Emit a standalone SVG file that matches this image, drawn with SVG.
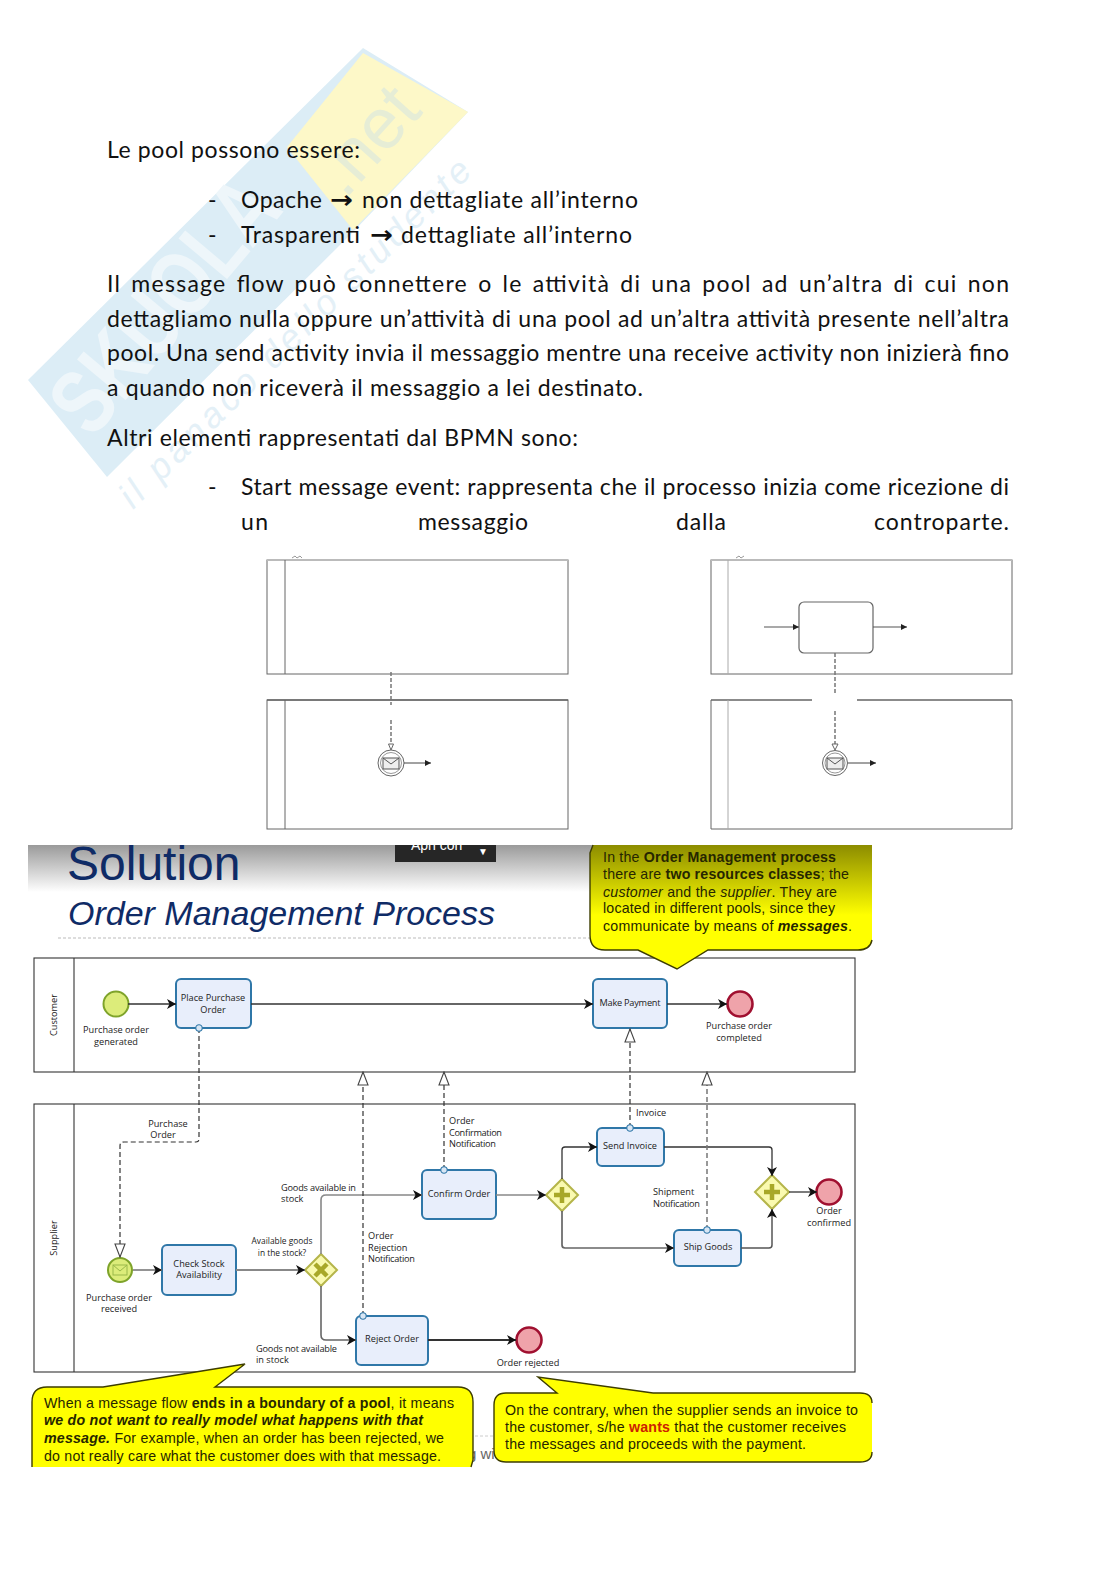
<svg xmlns="http://www.w3.org/2000/svg" width="1116" height="1579" viewBox="0 0 1116 1579">
<style>
text{font-family:"Liberation Sans",Arial,sans-serif;fill:#222}
.b{font-family:Lato,"Liberation Sans",sans-serif;font-size:23px;fill:#111}
.ar{font-family:"DejaVu Sans",sans-serif;font-size:24px;font-weight:bold;fill:#111}
.s{font-family:"Open Sans","DejaVu Sans",sans-serif;font-size:9.2px;fill:#222}
.m{text-anchor:middle}
.c{font-size:14.2px;fill:#262600}
.pool{fill:#fff;stroke:#333;stroke-width:1.1}
.mini{fill:none;stroke:#666;stroke-width:1}
.task{fill:#e8eefb;stroke:#2f77a8;stroke-width:2}
.st{fill:#dcec7a;stroke:#7ea32a;stroke-width:2}
.en{fill:#efa3aa;stroke:#a01030;stroke-width:2.6}
.gw{fill:#fafab0;stroke:#b5b54a;stroke-width:2}
.sym{fill:none;stroke:#a8a828;stroke-width:4.5}
.sf{fill:none;stroke:#333;stroke-width:1.3;marker-end:url(#a)}
.mf{fill:none;stroke:#333;stroke-width:1.2;stroke-dasharray:5 3}
.mm{fill:none;stroke:#777;stroke-width:1.5;stroke-dasharray:4 2}
.to{marker-end:url(#h)}
.from{marker-start:url(#o)}
.bub{stroke:none}
.edge{fill:none;stroke:#3d3d00;stroke-width:1.4}
</style>
<defs>
<marker id="a" markerUnits="userSpaceOnUse" markerWidth="10" markerHeight="10" refX="9" refY="5" orient="auto"><path d="M0,0 L9,5 L0,10 L2.5,5 Z" fill="#111"/></marker>
<marker id="am" markerUnits="userSpaceOnUse" markerWidth="7" markerHeight="6" refX="6" refY="3" orient="auto"><path d="M0,0 L6,3 L0,6 Z" fill="#222"/></marker>
<marker id="h" markerUnits="userSpaceOnUse" markerWidth="15" markerHeight="12" refX="14" refY="6" orient="auto"><path d="M1,1 L14,6 L1,11 Z" fill="#fff" stroke="#444" stroke-width="1.1" stroke-dasharray="none"/></marker>
<marker id="o" markerUnits="userSpaceOnUse" markerWidth="9" markerHeight="9" refX="4.5" refY="4.5" orient="auto"><circle cx="4.5" cy="4.5" r="3.2" fill="#d8e6f4" stroke="#2f77a8" stroke-width="1.1"/></marker>
<linearGradient id="hd" x1="0" y1="0" x2="0" y2="1"><stop offset="0" stop-color="#9a9a9a"/><stop offset="1" stop-color="#fff"/></linearGradient>
<linearGradient id="yg" gradientUnits="userSpaceOnUse" x1="0" y1="845" x2="0" y2="915"><stop offset="0" stop-color="#8c8c00"/><stop offset="1" stop-color="#ffff00"/></linearGradient>
<clipPath id="hc"><rect x="28" y="845" width="840" height="60"/></clipPath>
</defs>

<g id="watermark">
<polygon points="28,380 363,48 468,112 353,232 107,477" fill="#dcedf6"/>
<polygon points="287,147 363,53 468,112 353,230" fill="#fdf8c8"/>
<text transform="translate(92,440) rotate(-50)" font-size="92" font-weight="bold" textLength="300" lengthAdjust="spacingAndGlyphs" style="fill:#eef6fa">SKUOLA</text>
<text transform="translate(345,200) rotate(-48)" font-size="72" textLength="118" lengthAdjust="spacingAndGlyphs" style="fill:#e6edd6">.net</text>
<text transform="translate(133,510) rotate(-44.7)" font-size="36" font-style="italic" textLength="479" style="fill:#e4f0f7">il panaco dello studente</text>
</g>

<g id="body-text">
<text class="b" x="107" y="158" textLength="253">Le pool possono essere:</text>
<text class="b" x="208" y="208">-</text>
<text class="b" x="241" y="208" textLength="81">Opache</text>
<text class="ar" x="330" y="208" textLength="23" lengthAdjust="spacingAndGlyphs">→</text>
<text class="b" x="362" y="208" textLength="276">non dettagliate all’interno</text>
<text class="b" x="208" y="243">-</text>
<text class="b" x="241" y="243" textLength="119">Trasparenti</text>
<text class="ar" x="370" y="243" textLength="23" lengthAdjust="spacingAndGlyphs">→</text>
<text class="b" x="401" y="243" textLength="231">dettagliate all’interno</text>
<text class="b" x="107" y="292" textLength="902" style="word-spacing:3px">Il message flow può connettere o le attività di una pool ad un’altra di cui non</text>
<text class="b" x="107" y="327" textLength="902">dettagliamo nulla oppure un’attività di una pool ad un’altra attività presente nell’altra</text>
<text class="b" x="107" y="361" textLength="902">pool. Una send activity invia il messaggio mentre una receive activity non inizierà fino</text>
<text class="b" x="107" y="396" textLength="536">a quando non riceverà il messaggio a lei destinato.</text>
<text class="b" x="107" y="446" textLength="471">Altri elementi rappresentati dal BPMN sono:</text>
<text class="b" x="208" y="495">-</text>
<text class="b" x="241" y="495" textLength="768">Start message event: rappresenta che il processo inizia come ricezione di</text>
<text class="b" x="241" y="530" textLength="27">un</text>
<text class="b" x="418" y="530" textLength="110">messaggio</text>
<text class="b" x="676" y="530" textLength="50">dalla</text>
<text class="b" x="874" y="530" textLength="135">controparte.</text>
</g>

<g id="mini-left">
<rect class="mini" x="267" y="560" width="301" height="114"/>
<line x1="267" y1="560" x2="568" y2="560" stroke="#bbb" stroke-width="2"/>
<path d="M292,558 l3,-2 l2,2 l3,-2 l2,2" fill="none" stroke="#999"/>
<line class="mini" x1="285" y1="560" x2="285" y2="674"/>
<rect class="mini" x="267" y="700" width="301" height="129"/>
<line x1="267" y1="700" x2="568" y2="700" stroke="#666" stroke-width="1.6"/>
<line class="mini" x1="285" y1="700" x2="285" y2="829"/>
<path class="mm" d="M391,672 V705 M391,720 V744"/>
<path d="M388.5,744 h5 l-2.500,6 z" fill="#fff" stroke="#666"/>
<circle cx="391" cy="763" r="13" fill="#fff" stroke="#666"/>
<circle cx="391" cy="763" r="10.500" fill="none" stroke="#999"/>
<rect x="383" y="758" width="16" height="11" fill="#eee" stroke="#555"/>
<path d="M383,758 L391,764 L399,758" fill="none" stroke="#555"/>
<line x1="404" y1="763" x2="431" y2="763" stroke="#444" marker-end="url(#am)"/>
</g>

<g id="mini-right">
<rect class="mini" x="711" y="560" width="301" height="114"/>
<line x1="711" y1="560" x2="1012" y2="560" stroke="#bbb" stroke-width="2"/>
<path d="M736,558 l3,-2 l2,2 l3,-2" fill="none" stroke="#999"/>
<line x1="728" y1="560" x2="728" y2="674" stroke="#aaa"/>
<path d="M711,700 V829 H1012 V700" class="mini"/>
<path d="M711,700 H812 M857,700 H1012" fill="none" stroke="#666" stroke-width="1.6"/>
<line x1="728" y1="700" x2="728" y2="829" stroke="#aaa"/>
<rect x="799" y="602" width="74" height="51" rx="5" fill="#fff" stroke="#666" stroke-width="1.2"/>
<line x1="764" y1="627" x2="799" y2="627" stroke="#555" stroke-width="1.2" marker-end="url(#am)"/>
<line x1="873" y1="627" x2="907" y2="627" stroke="#555" stroke-width="1.2" marker-end="url(#am)"/>
<path class="mm" d="M835,653 V695 M835,711 V744"/>
<path d="M832,744 h6 l-3,6 z" fill="#fff" stroke="#666"/>
<circle cx="835" cy="763" r="12.500" fill="#fff" stroke="#666"/>
<circle cx="835" cy="763" r="10" fill="none" stroke="#999"/>
<rect x="827" y="758" width="16" height="11" fill="#eee" stroke="#555"/>
<path d="M827,758 L835,764 L843,758" fill="none" stroke="#555"/>
<line x1="848" y1="763" x2="876" y2="763" stroke="#444" marker-end="url(#am)"/>
</g>

<g id="header">
<rect x="28" y="845" width="565" height="47" fill="url(#hd)"/>
<g clip-path="url(#hc)">
<text x="67" y="880" font-size="48" style="fill:#0f2b66">Solution</text>
<rect x="395" y="845" width="101" height="17" fill="#262626"/>
<text x="411" y="850" font-size="14" style="fill:#fff">Apri con</text>
<text x="478" y="855" font-size="10" style="fill:#fff">▼</text>
</g>
<text x="68" y="925" font-size="34" font-style="italic" textLength="427" style="fill:#0f2b66">Order Management Process</text>
<line x1="58" y1="938" x2="592" y2="938" stroke="#bbb" stroke-dasharray="3 2"/>
</g>

<g id="pool-customer">
<rect class="pool" x="34" y="958" width="821" height="114"/>
<line class="pool" x1="74" y1="958" x2="74" y2="1072"/>
<text transform="translate(57,1015) rotate(-90)" class="s m">Customer</text>
</g>
<g id="pool-supplier">
<rect class="pool" x="34" y="1104" width="821" height="268"/>
<line class="pool" x1="74" y1="1104" x2="74" y2="1372"/>
<text transform="translate(57,1238) rotate(-90)" class="s m">Supplier</text>
</g>

<g id="start-customer"><circle class="st" cx="116" cy="1004" r="12.5"/><text class="s m" x="116" y="1033">Purchase order</text><text class="s m" x="116" y="1045">generated</text></g>
<g id="task-place"><rect class="task" x="176" y="979" width="75" height="49" rx="5"/><text class="s m" x="213" y="1001">Place Purchase</text><text class="s m" x="213" y="1013">Order</text></g>
<g id="task-payment"><rect class="task" x="593" y="979" width="74" height="49" rx="5"/><text class="s m" x="630" y="1006" textLength="61">Make Payment</text></g>
<g id="end-customer"><circle class="en" cx="740" cy="1004" r="12.5"/><text class="s m" x="739" y="1029">Purchase order</text><text class="s m" x="739" y="1041">completed</text></g>

<g id="start-supplier"><circle class="st" cx="120" cy="1270" r="12"/><rect x="113" y="1265" width="14" height="10" fill="none" stroke="#9ab84a"/><path d="M113,1265 L120,1271 L127,1265" fill="none" stroke="#9ab84a"/><text class="s m" x="119" y="1301">Purchase order</text><text class="s m" x="119" y="1312">received</text></g>
<g id="task-check"><rect class="task" x="162" y="1245" width="74" height="50" rx="5"/><text class="s m" x="199" y="1267">Check Stock</text><text class="s m" x="199" y="1278">Availability</text></g>
<g id="gw-stock"><polygon class="gw" points="321,1254 337,1270 321,1286 305,1270"/><path class="sym" d="M315,1264 L327,1276 M327,1264 L315,1276"/></g>
<g id="task-confirm"><rect class="task" x="422" y="1170" width="74" height="49" rx="5"/><text class="s m" x="459" y="1197">Confirm Order</text></g>
<g id="task-reject"><rect class="task" x="356" y="1316" width="72" height="49" rx="5"/><text class="s m" x="392" y="1342">Reject Order</text></g>
<g id="end-rejected"><circle class="en" cx="529" cy="1340" r="12.5"/><text class="s m" x="528" y="1366">Order rejected</text></g>
<g id="gw-split"><polygon class="gw" points="562,1179 578,1195 562,1211 546,1195"/><path class="sym" d="M562,1187 V1203 M554,1195 H570"/></g>
<g id="task-invoice"><rect class="task" x="597" y="1128" width="67" height="38" rx="5"/><text class="s m" x="630" y="1149">Send Invoice</text></g>
<g id="task-ship"><rect class="task" x="674" y="1230" width="67" height="36" rx="5"/><text class="s m" x="708" y="1250">Ship Goods</text></g>
<g id="gw-join"><polygon class="gw" points="772,1175 789,1192 772,1209 755,1192"/><path class="sym" d="M772,1184 V1200 M764,1192 H780"/></g>
<g id="end-confirmed"><circle class="en" cx="829" cy="1192" r="12.5"/><text class="s m" x="829" y="1214">Order</text><text class="s m" x="829" y="1226">confirmed</text></g>

<g id="connectors">
<path class="sf" d="M128,1004 H176"/>
<path class="sf" d="M251,1004 H593"/>
<path class="sf" d="M667,1004 H727"/>
<path class="sf" d="M133,1270 H162" style="stroke:#888;stroke-width:1.8"/>
<path class="sf" d="M236,1270 H305" style="stroke:#888;stroke-width:1.8"/>
<path class="sf" d="M321,1254 V1200 Q321,1195 326,1195 H422" style="stroke:#888;stroke-width:1.6"/>
<path class="sf" d="M321,1286 V1335 Q321,1340 326,1340 H356" style="stroke:#666;stroke-width:1.6"/>
<path class="sf" d="M428,1340 H516" style="stroke-width:1.8"/>
<path class="sf" d="M496,1195 H546" style="stroke:#888;stroke-width:1.5"/>
<path class="sf" d="M562,1179 V1150 Q562,1147 565,1147 H597"/>
<path class="sf" d="M562,1211 V1245 Q562,1248 565,1248 H674" style="stroke:#666;stroke-width:1.7"/>
<path class="sf" d="M664,1147 H769 Q772,1147 772,1150 V1176"/>
<path class="sf" d="M741,1248 H769 Q772,1248 772,1245 V1209" style="stroke:#555;stroke-width:1.5"/>
<path class="sf" d="M789,1192 H817"/>
<path class="mf from to" d="M199,1028 V1139 Q199,1142 196,1142 H124 Q120,1142 120,1146 V1257"/>
<path class="mf from to" d="M363,1316 V1072"/>
<path class="mf from to" d="M444,1170 V1072"/>
<path class="mf from to" d="M630,1128 V1029"/>
<path class="mf from to" d="M707,1230 V1072" style="stroke:#777;stroke-width:1.5"/>
</g>

<g id="flow-labels">
<text class="s m" x="168" y="1127">Purchase</text><text class="s m" x="163" y="1138">Order</text>
<text class="s m" x="282" y="1244" style="font-size:8.4px">Available goods</text><text class="s m" x="282" y="1256" style="font-size:8.4px">in the stock?</text>
<text class="s" x="281" y="1191" textLength="75">Goods available in</text><text class="s" x="281" y="1202">stock</text>
<text class="s" x="256" y="1352" textLength="81">Goods not available</text><text class="s" x="256" y="1363">in stock</text>
<text class="s" x="368" y="1239">Order</text><text class="s" x="368" y="1251">Rejection</text><text class="s" x="368" y="1262" textLength="47">Notification</text>
<text class="s" x="449" y="1124">Order</text><text class="s" x="449" y="1136" textLength="53">Confirmation</text><text class="s" x="449" y="1147" textLength="47">Notification</text>
<text class="s" x="636" y="1116">Invoice</text>
<text class="s" x="653" y="1195">Shipment</text><text class="s" x="653" y="1207" textLength="47">Notification</text>
</g>

<g id="behind-callouts">
<line x1="470" y1="1436" x2="494" y2="1436" stroke="#ccc" stroke-dasharray="3 2"/>
<text x="468" y="1459" font-size="15" style="fill:#666">g wi</text>
</g>

<g id="callout-top">
<path class="bub" fill="url(#yg)" d="M593,845 H872 V940 Q870,950 858,950 H708 L677,969 L638,950 H605 Q590,950 590,935 V853 Z"/>
<path class="edge" d="M593,845 L590,853 V935 Q590,950 605,950 H638 L677,969 L708,950 H858 Q870,950 872,940"/>
<text class="c" x="603" y="862" textLength="233">In the <tspan font-weight="bold">Order Management process</tspan></text>
<text class="c" x="603" y="879" textLength="246">there are <tspan font-weight="bold">two resources classes</tspan>; the</text>
<text class="c" x="603" y="897" textLength="234"><tspan font-style="italic">customer</tspan> and the <tspan font-style="italic">supplier</tspan>. They are</text>
<text class="c" x="603" y="913" textLength="232">located in different pools, since they</text>
<text class="c" x="603" y="931" textLength="249">communicate by means of <tspan font-weight="bold" font-style="italic">messages</tspan>.</text>
</g>

<g id="callout-left">
<path class="bub" fill="#ffff00" d="M103,1387 L245,1364 L215,1387 H458 Q473,1387 473,1402 V1460 L471,1467 H32 V1402 Q32,1387 47,1387 Z"/>
<path class="edge" d="M32,1467 V1402 Q32,1387 47,1387 H103 L245,1364 L215,1387 H458 Q473,1387 473,1402 V1460 L471,1467"/>
<text class="c" x="44" y="1408" textLength="410">When a message flow <tspan font-weight="bold">ends in a boundary of a pool</tspan>, it means</text>
<text class="c" x="44" y="1425" textLength="379" font-weight="bold" font-style="italic">we do not want to really model what happens with that</text>
<text class="c" x="44" y="1443" textLength="400"><tspan font-weight="bold" font-style="italic">message.</tspan> For example, when an order has been rejected, we</text>
<text class="c" x="44" y="1461" textLength="397">do not really care what the customer does with that message.</text>
</g>

<g id="callout-right">
<path class="bub" fill="#ffff00" d="M653,1393 H860 Q872,1393 872,1403 V1452 Q872,1462 860,1462 H506 Q494,1462 494,1450 V1405 Q494,1393 506,1393 H557 L538,1377 Z"/>
<path class="edge" d="M653,1393 H860 Q872,1393 872,1403 M872,1452 Q872,1462 860,1462 H506 Q494,1462 494,1450 V1405 Q494,1393 506,1393 H557 L538,1377 L653,1393"/>
<text class="c" x="505" y="1415" textLength="353">On the contrary, when the supplier sends an invoice to</text>
<text class="c" x="505" y="1432" textLength="341">the customer, s/he <tspan font-weight="bold" style="fill:#cc2200">wants</tspan> that the customer receives</text>
<text class="c" x="505" y="1449" textLength="301">the messages and proceeds with the payment.</text>
</g>
</svg>
